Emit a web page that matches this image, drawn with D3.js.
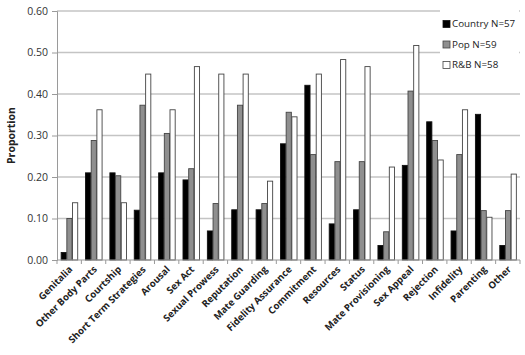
<!DOCTYPE html>
<html><head><meta charset="utf-8">
<script src="https://cdn.jsdelivr.net/npm/d3@7"></script>
<style>body{margin:0;background:#fff}svg{display:block}</style>
</head><body>
<svg id="c" width="525" height="355"></svg>
<script>
const categories = ["Genitalia","Other Body Parts","Courtship","Short Term Strategies","Arousal","Sex Act","Sexual Prowess","Reputation","Mate Guarding","Fidelity Assurance","Commitment","Resources","Status","Mate Provisioning","Sex Appeal","Rejection","Infidelity","Parenting","Other"];
const seriesNames = ["Country N=57","Pop N=59","R&B N=58"];
const country = [0.018,0.21,0.21,0.12,0.21,0.193,0.07,0.121,0.121,0.28,0.421,0.087,0.121,0.035,0.228,0.333,0.07,0.351,0.035];
const pop     = [0.10,0.288,0.203,0.373,0.305,0.22,0.136,0.373,0.136,0.356,0.254,0.237,0.237,0.068,0.407,0.288,0.254,0.119,0.119];
const rnb     = [0.138,0.362,0.138,0.448,0.362,0.466,0.448,0.448,0.19,0.345,0.448,0.483,0.466,0.224,0.517,0.241,0.362,0.103,0.207];
const yTicks = [0,0.1,0.2,0.3,0.4,0.5,0.6];

const series = [country, pop, rnb];
const fills = ["#000000","#8f8f8f","#ffffff"];
const svg = d3.select("#c");
const m = {l:57, r:5, t:11, b:95};
const W = 525, H = 355;
const x = d3.scaleBand().domain(categories).range([m.l, W-m.r]).paddingInner(0.3).paddingOuter(0.15);
const xb = d3.scaleBand().domain(categories).range([m.l, W-m.r]);
const xs = d3.scaleBand().domain([0,1,2]).range([0, x.bandwidth()]);
const y = d3.scaleLinear().domain([0,0.6]).range([H-m.b, m.t]);

// gridlines
svg.append("g").selectAll("line").data(yTicks.slice(1)).join("line")
  .attr("x1", m.l).attr("x2", W-m.r)
  .attr("y1", d=>y(d)).attr("y2", d=>y(d))
  .attr("stroke","#c4c4c4").attr("stroke-width",1.3);

// y axis
const ya = svg.append("g").attr("transform",`translate(${m.l},0)`)
  .call(d3.axisLeft(y).tickValues(yTicks).tickFormat(d3.format(".2f")).tickSize(5).tickPadding(4));
ya.select(".domain").attr("stroke","#9a9a9a");
ya.selectAll(".tick line").attr("stroke","#9a9a9a");
ya.selectAll("text").attr("font-family","'Open Sans', sans-serif").attr("font-size","10.5px").attr("fill","#333");

// bars
const g = svg.append("g");
series.forEach((s,si)=>{
  g.append("g").selectAll("rect").data(s).join("rect")
    .attr("x",(d,i)=>x(categories[i]) + xs(si) + 0.5)
    .attr("width", xs.bandwidth()-0.5)
    .attr("y", d=>y(d))
    .attr("height", d=>y(0)-y(d))
    .attr("fill", fills[si])
    .attr("stroke", si===0 ? "#111" : "#444")
    .attr("stroke-width", 0.9);
});

// x axis
const xa = svg.append("g").attr("transform",`translate(0,${H-m.b})`);
xa.append("line").attr("x1",m.l).attr("x2",W-m.r).attr("stroke","#9a9a9a");
const bounds = categories.map(c=>xb(c)).concat([W-m.r]);
xa.selectAll(".tk").data(bounds).join("line").attr("class","tk")
  .attr("x1",d=>d).attr("x2",d=>d).attr("y1",0).attr("y2",4).attr("stroke","#9a9a9a");
xa.selectAll("text").data(categories).join("text")
  .attr("transform", d=>`translate(${xb(d)+xb.bandwidth()/2+4},${10}) rotate(-45)`)
  .attr("text-anchor","end")
  .attr("font-family","'Open Sans', sans-serif").attr("font-weight","bold")
  .attr("font-size","9.6px").attr("fill","#222")
  .text(d=>d);

// y label
svg.append("text").attr("transform",`translate(15,${(m.t+H-m.b)/2}) rotate(-90)`)
  .attr("text-anchor","middle").attr("font-family","'Open Sans', sans-serif")
  .attr("font-weight","bold").attr("font-size","10.5px").attr("fill","#222").text("Proportion");

// legend
const lg = svg.append("g");
lg.append("rect").attr("x",440).attr("y",4).attr("width",79).attr("height",72).attr("fill","#fff");
seriesNames.forEach((n,i)=>{
  const yy = 24 + i*20.5;
  lg.append("rect").attr("x",443).attr("y",yy-3.5).attr("width",7).attr("height",7)
    .attr("fill",fills[i]).attr("stroke", i===0?"#111":"#444").attr("stroke-width",0.8);
  lg.append("text").attr("x",452).attr("y",yy).attr("dy","0.35em")
    .attr("font-family","'Open Sans', sans-serif").attr("font-size","9.8px").attr("fill","#222").text(n);
});
</script>
</body></html>
